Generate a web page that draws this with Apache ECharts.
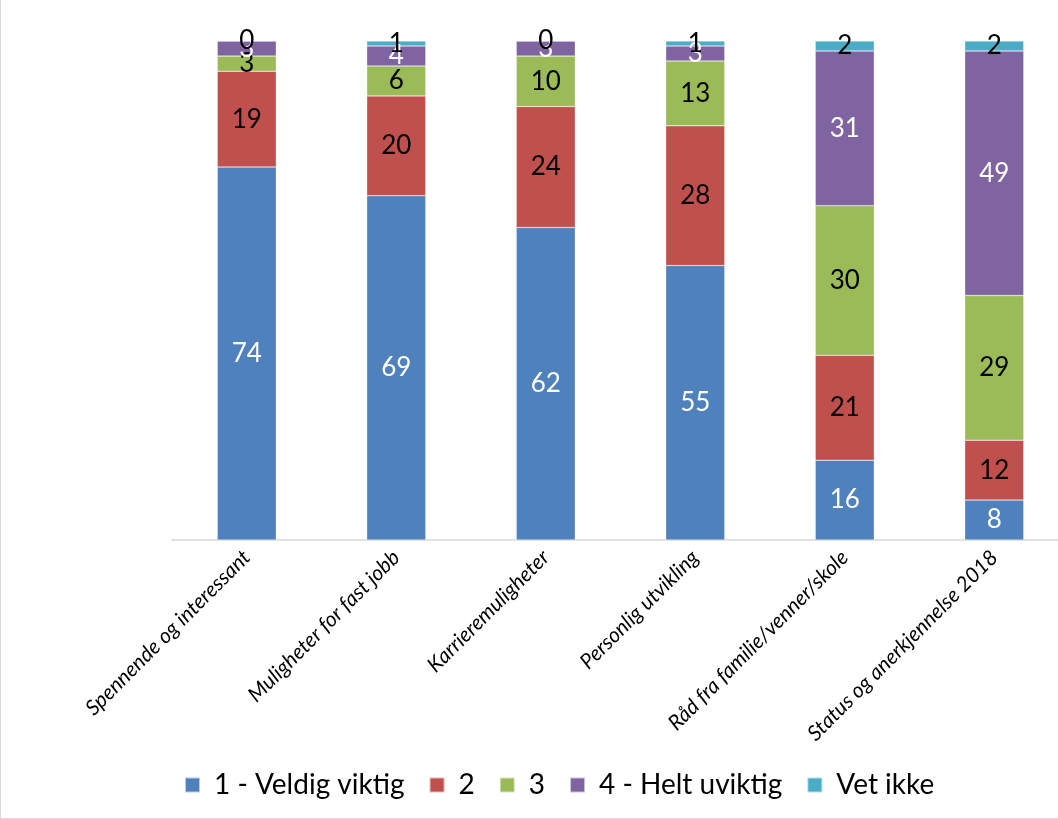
<!DOCTYPE html>
<html>
<head>
<meta charset="utf-8">
<style>
  html, body { margin: 0; padding: 0; background: #fff; overflow: hidden; width: 1058px; height: 819px; }
  #chart { width: 1072px; height: 819px; box-sizing: border-box; border-left: 1px solid #d9d9d9; border-bottom: 1px solid #d9d9d9; }
</style>
<script src="https://cdn.jsdelivr.net/npm/echarts@6/dist/echarts.min.js"></script>
</head>
<body>
<div id="chart"></div>
<script>
const categories = [
  'Spennende og interessant',
  'Muligheter for fast jobb',
  'Karrieremuligheter',
  'Personlig utvikling',
  'Råd fra familie/venner/skole',
  'Status og anerkjennelse 2018'
]
const seriesNames = ['1 - Veldig viktig', '2', '3', '4 - Helt uviktig', 'Vet ikke']
const veldigViktig = [74, 69, 62, 55, 16, 8]
const to = [19, 20, 24, 28, 21, 12]
const tre = [3, 6, 10, 13, 30, 29]
const heltUviktig = [3, 4, 3, 3, 31, 49]
const vetIkke = [0, 1, 0, 1, 2, 2]

const raw = [veldigViktig, to, tre, heltUviktig, vetIkke]
const colors = ['#4F81BD', '#C0504D', '#9BBB59', '#8064A2', '#4BACC6']
const labelColors = ['#fff', '#000', '#000', '#fff', '#000']

// bars are 100 % stacked, so each column is scaled to its own total
const totals = categories.map((c, i) => raw.reduce((s, arr) => s + arr[i], 0))

const chart = echarts.init(document.getElementById('chart'))
const option = {
  animation: false,
  textStyle: { fontFamily: 'Lato, "Open Sans", sans-serif' },
  legend: {
    bottom: 14,
    left: 178,
    itemWidth: 15,
    itemHeight: 15,
    itemGap: 24,
    icon: 'rect',
    textStyle: { fontSize: 28, color: '#000', fontFamily: 'Lato, sans-serif', padding: [0, 0, 0, 9] },
    data: seriesNames
  },
  grid: {
    left: 171,
    top: 41,
    right: 3,
    bottom: 278
  },
  xAxis: {
    type: 'category',
    data: categories,
    axisTick: { show: false },
    axisLine: { lineStyle: { color: '#d9d9d9', width: 1.5 } },
    axisLabel: {
      rotate: 45,
      interval: 0,
      fontSize: 21,
      fontStyle: 'italic',
      color: '#000',
      margin: 14
    }
  },
  yAxis: {
    type: 'value',
    min: 0,
    max: 100,
    show: false
  },
  series: seriesNames.map((name, k) => ({
    name: name,
    type: 'bar',
    stack: 'total',
    barWidth: 59,
    itemStyle: { color: colors[k], borderColor: 'rgba(255,255,255,0.6)', borderWidth: 0.5 },
    label: {
      show: true,
      position: 'inside',
      fontSize: 26,
      color: labelColors[k],
      fontFamily: 'Lato, sans-serif',
      formatter: p => raw[k][p.dataIndex]
    },
    data: raw[k].map((v, i) => v / totals[i] * 100)
  }))
}
chart.setOption(option)
</script>
</body>
</html>
